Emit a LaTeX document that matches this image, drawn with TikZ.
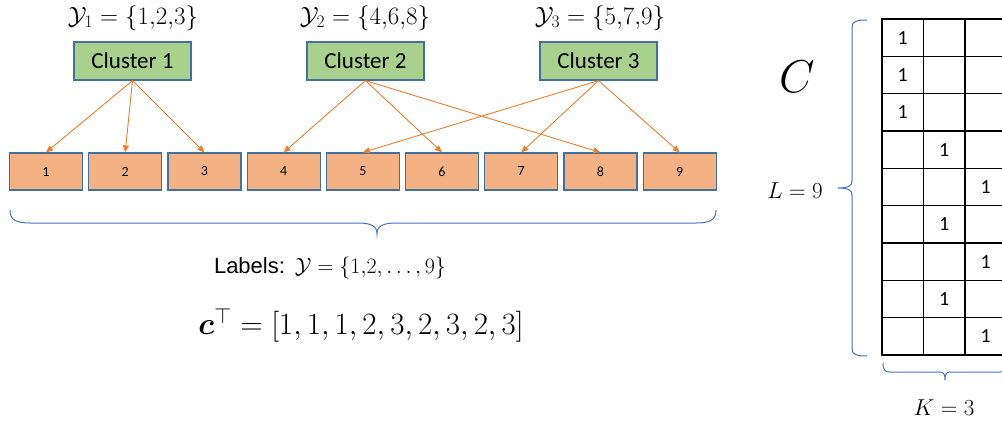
\RequirePackage{fix-cm}
\documentclass[tikz,border=0pt]{standalone}
\usepackage{amsmath}
\usepackage{amssymb}
\usepackage{bm}
\usepackage[no-math]{fontspec}
\setmainfont{Carlito}
\newfontfamily\arialfont{Liberation Sans}
\usetikzlibrary{arrows.meta}
\definecolor{clustergreen}{HTML}{A9D18E}
\definecolor{labelorange}{HTML}{F4B183}
\definecolor{edgeblue}{HTML}{41719C}
\definecolor{linkorange}{HTML}{ED7D31}
\definecolor{braceblue}{HTML}{4472C4}

\begin{document}
\begin{tikzpicture}[x=1pt, y=-1pt,
	cluster/.style={draw=edgeblue, fill=clustergreen, line width=1.2pt, minimum width=117pt, minimum height=38pt, inner sep=0pt, font=\fontsize{23}{27}\selectfont},
	labelbox/.style={draw=edgeblue, fill=labelorange, line width=1.2pt, minimum width=73pt, minimum height=37pt, inner sep=0pt, font=\fontsize{14}{16}\selectfont},
	link/.style={draw=linkorange, line width=0.9pt, -{Triangle[length=7pt, width=6pt]}},
	brace/.style={draw=braceblue, line width=1pt},
	cell/.style={draw=black, line width=1.2pt, minimum width=41.5pt, minimum height=37.33pt, inner sep=0pt},
	one/.style={inner sep=0pt, font=\fontsize{20}{24}\selectfont},
	mathtext/.style={inner sep=0pt, font=\fontsize{25}{29}\selectfont}]
	\useasboundingbox (0,0) rectangle (1002,425);
	\clip (0,0) rectangle (1002,425);

	\node[mathtext] (y1) at (133, 18) {$\mathcal{Y}_1 = \{1{,}2{,}3\}$};
	\node[mathtext] (y2) at (365, 18) {$\mathcal{Y}_2 = \{4{,}6{,}8\}$};
	\node[mathtext] (y3) at (600, 18) {$\mathcal{Y}_3 = \{5{,}7{,}9\}$};

	\node[cluster] (c1) at (132.5, 61) {Cluster 1};
	\node[cluster] (c2) at (365.5, 61) {Cluster 2};
	\node[cluster] (c3) at (598.5, 61) {Cluster 3};

	\foreach \i in {1,...,9}
		\node[labelbox] (l\i) at ({46+79.2*(\i-1)}, 171.5) {\i};

	\foreach \c/\l in {1/1, 1/2, 1/3, 2/4, 2/6, 2/8, 3/5, 3/7, 3/9}
		\draw[link] (c\c.south) -- (l\l.north);

	\draw[brace] (10,210) .. controls (10,220) and (16,223) .. (30,223) -- (358,223)
		.. controls (371,223) and (377,226) .. (377,234)
		.. controls (377,226) and (383,223) .. (396,223) -- (696,223)
		.. controls (710,223) and (716,220) .. (716,210);

	\node[anchor=base, inner sep=0pt, font=\fontsize{22}{26}\selectfont] (labels) at (330, 273) {{\arialfont Labels:}\ \ $\mathcal{Y} = \{1{,}2, \ldots, 9\}$};

	\node[inner sep=0pt, font=\fontsize{31}{35}\selectfont] (cvec) at (361, 325) {$\bm{c}^{\top} = [1, 1, 1, 2, 3, 2, 3, 2, 3]$};

	\node[inner sep=0pt, font=\fontsize{46}{50}\selectfont] (cmat) at (797, 77) {$C$};

	\foreach \r/\k in {1/1, 2/1, 3/1, 4/2, 5/3, 6/2, 7/3, 8/2, 9/3} {
		\foreach \j in {1,2,3}
			\node[cell] (m\r-\j) at ({882+41.5*(\j-0.5)}, {19+37.33*(\r-0.5)}) {};
		\node[one] at (m\r-\k) {1};
	}

	\draw[brace] (867,20) .. controls (858,20) and (852,21) .. (852,27) -- (852,181)
		.. controls (852,186) and (848,188) .. (838,188)
		.. controls (848,188) and (852,190) .. (852,195) -- (852,349)
		.. controls (852,355) and (858,356) .. (867,356);
	\node[mathtext, font=\fontsize{23}{27}\selectfont] (lval) at (795, 191) {$L = 9$};

	\draw[brace] (883,363) .. controls (883,370) and (885,372) .. (890,372) -- (940,372)
		.. controls (944,372) and (945,375) .. (945,380)
		.. controls (945,375) and (946,372) .. (950,372) -- (1000,372)
		.. controls (1005,372) and (1007,370) .. (1007,363);
	\node[mathtext, font=\fontsize{23}{27}\selectfont] (kval) at (944, 408) {$K = 3$};
\end{tikzpicture}
\end{document}
